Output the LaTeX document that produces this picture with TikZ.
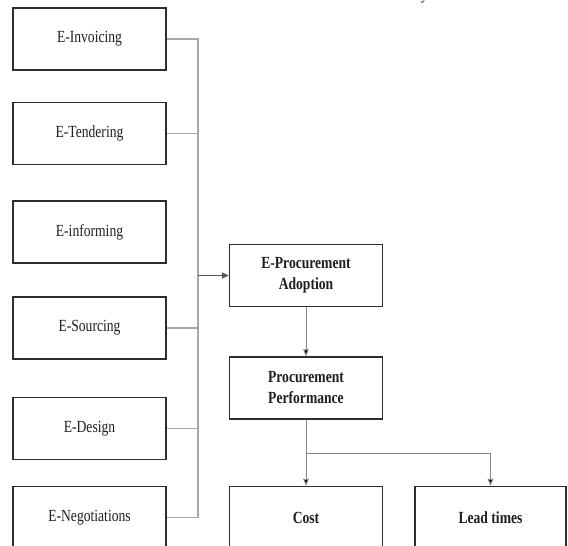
\documentclass[tikz,border=0pt]{standalone}
\usepackage{fontspec}
\usetikzlibrary{arrows.meta}
\newfontfamily\boxfont[FakeStretch=0.8]{Liberation Serif}
\definecolor{edge}{HTML}{2E2E2E}
\definecolor{ink}{HTML}{1E1E1E}
\definecolor{wire}{HTML}{A8A8A8}
\definecolor{wiredark}{HTML}{5A5A5A}
\begin{document}
\begin{tikzpicture}[x=1pt,y=-1pt,
  box/.style={draw=edge, line width=1.2pt, minimum width=153pt, minimum height=62pt,
    inner sep=0pt, align=center, text=ink, font=\boxfont\fontsize{17}{21}\selectfont},
  keybox/.style={box, font=\boxfont\bfseries\fontsize{17}{21}\selectfont},
  link/.style={draw=wire, line width=1.3pt},
  feed/.style={draw=wiredark, line width=1.5pt, -{Triangle[length=7pt,width=6pt]}},
  flow/.style={draw=wire!80!black, line width=1pt, -{Triangle[length=7pt,width=5.5pt,fill=black]}}]
\useasboundingbox (0,0) rectangle (568,546);
\clip (0,0) rectangle (568,546);

% title line running above the frame
\node[anchor=base west, inner sep=0pt, text=ink, font=\boxfont\fontsize{17}{21}\selectfont] (title) at (421,-0.6) {y};

% e-procurement dimensions
\node[box] (inv)  at (89.5,39)    {E-Invoicing};
\node[box] (ten)  at (89.5,133.5) {E-Tendering};
\node[box] (infm) at (89.5,232)   {E-informing};
\node[box] (src)  at (89.5,328)   {E-Sourcing};
\node[box] (des)  at (89.5,428.5) {E-Design};
\node[box] (neg)  at (89.5,517.5) {E-Negotiations};

% adoption and performance chain
\node[keybox] (adopt) at (306,275.5) {E-Procurement\\Adoption};
\node[keybox] (perf)  at (306,388)   {Procurement\\Performance};
\node[keybox] (cost)  at (306,517.5) {Cost};
\node[keybox, minimum width=151pt] (lead) at (490.5,517.5) {Lead times};

% collecting bus
\coordinate (bus) at (198,0);
\coordinate (split) at (306,453);

\draw[link] (inv.east) -- (inv.east -| bus) -- (neg.east -| bus) -- (neg.east);
\draw[link] (ten.east) -- (ten.east -| bus);
\draw[link] (src.east) -- (src.east -| bus);
\draw[link] (des.east) -- (des.east -| bus);

\draw[feed] (adopt.west -| bus) -- (adopt.west);
\draw[flow] (adopt.south) -- (perf.north);
\draw[draw=wire!80!black, line width=1pt] (perf.south) -- (split);
\draw[flow] (split) -- (cost.north);
\draw[flow] (split) -| (lead.north);
\end{tikzpicture}
\end{document}
